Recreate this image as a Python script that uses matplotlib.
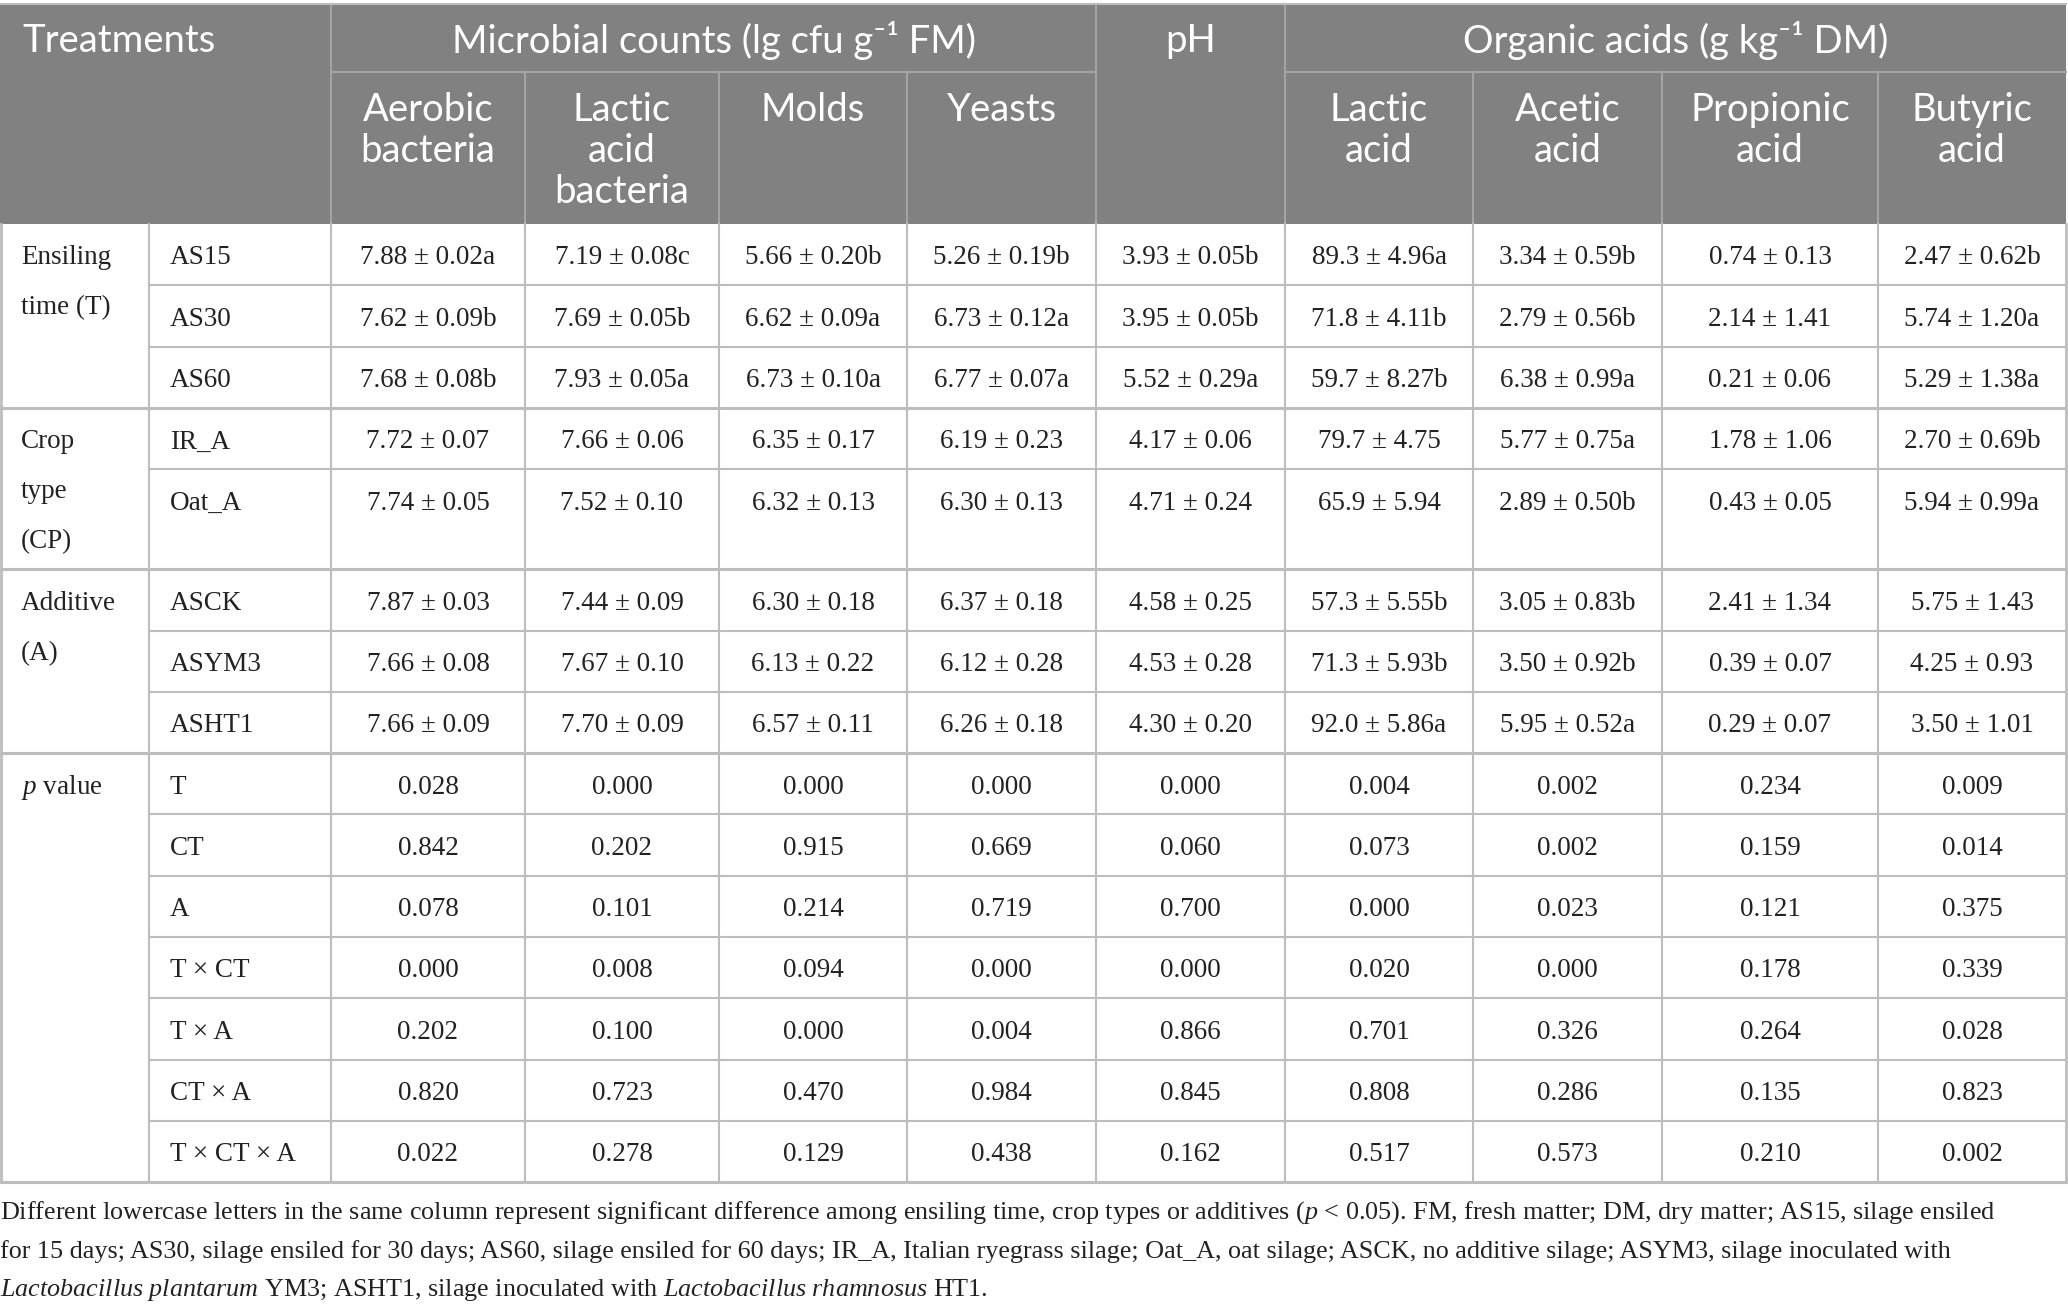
import matplotlib
matplotlib.use("Agg")
import matplotlib.pyplot as plt

# ---- table content ----
group_titles = ["Microbial counts (lg cfu g\u207b\u00b9 FM)", "pH", "Organic acids (g kg\u207b\u00b9 DM)"]
sub_headers = ["Aerobic\nbacteria", "Lactic\nacid\nbacteria", "Molds", "Yeasts", "",
               "Lactic\nacid", "Acetic\nacid", "Propionic\nacid", "Butyric\nacid"]

factor_labels = ["Ensiling\ntime (T)", "Crop\ntype\n(CP)", "Additive\n(A)", "$\\it{p}$ value"]
factor_levels = [["AS15", "AS30", "AS60"],
                 ["IR_A", "Oat_A"],
                 ["ASCK", "ASYM3", "ASHT1"],
                 ["T", "CT", "A", "T \u00d7 CT", "T \u00d7 A", "CT \u00d7 A", "T \u00d7 CT \u00d7 A"]]

time_rows = [
    ["7.88 ± 0.02a", "7.19 ± 0.08c", "5.66 ± 0.20b", "5.26 ± 0.19b", "3.93 ± 0.05b",
     "89.3 ± 4.96a", "3.34 ± 0.59b", "0.74 ± 0.13", "2.47 ± 0.62b"],
    ["7.62 ± 0.09b", "7.69 ± 0.05b", "6.62 ± 0.09a", "6.73 ± 0.12a", "3.95 ± 0.05b",
     "71.8 ± 4.11b", "2.79 ± 0.56b", "2.14 ± 1.41", "5.74 ± 1.20a"],
    ["7.68 ± 0.08b", "7.93 ± 0.05a", "6.73 ± 0.10a", "6.77 ± 0.07a", "5.52 ± 0.29a",
     "59.7 ± 8.27b", "6.38 ± 0.99a", "0.21 ± 0.06", "5.29 ± 1.38a"],
]
crop_rows = [
    ["7.72 ± 0.07", "7.66 ± 0.06", "6.35 ± 0.17", "6.19 ± 0.23", "4.17 ± 0.06",
     "79.7 ± 4.75", "5.77 ± 0.75a", "1.78 ± 1.06", "2.70 ± 0.69b"],
    ["7.74 ± 0.05", "7.52 ± 0.10", "6.32 ± 0.13", "6.30 ± 0.13", "4.71 ± 0.24",
     "65.9 ± 5.94", "2.89 ± 0.50b", "0.43 ± 0.05", "5.94 ± 0.99a"],
]
additive_rows = [
    ["7.87 ± 0.03", "7.44 ± 0.09", "6.30 ± 0.18", "6.37 ± 0.18", "4.58 ± 0.25",
     "57.3 ± 5.55b", "3.05 ± 0.83b", "2.41 ± 1.34", "5.75 ± 1.43"],
    ["7.66 ± 0.08", "7.67 ± 0.10", "6.13 ± 0.22", "6.12 ± 0.28", "4.53 ± 0.28",
     "71.3 ± 5.93b", "3.50 ± 0.92b", "0.39 ± 0.07", "4.25 ± 0.93"],
    ["7.66 ± 0.09", "7.70 ± 0.09", "6.57 ± 0.11", "6.26 ± 0.18", "4.30 ± 0.20",
     "92.0 ± 5.86a", "5.95 ± 0.52a", "0.29 ± 0.07", "3.50 ± 1.01"],
]
p_rows = [
    ["0.028", "0.000", "0.000", "0.000", "0.000", "0.004", "0.002", "0.234", "0.009"],
    ["0.842", "0.202", "0.915", "0.669", "0.060", "0.073", "0.002", "0.159", "0.014"],
    ["0.078", "0.101", "0.214", "0.719", "0.700", "0.000", "0.023", "0.121", "0.375"],
    ["0.000", "0.008", "0.094", "0.000", "0.000", "0.020", "0.000", "0.178", "0.339"],
    ["0.202", "0.100", "0.000", "0.004", "0.866", "0.701", "0.326", "0.264", "0.028"],
    ["0.820", "0.723", "0.470", "0.984", "0.845", "0.808", "0.286", "0.135", "0.823"],
    ["0.022", "0.278", "0.129", "0.438", "0.162", "0.517", "0.573", "0.210", "0.002"],
]
group_rows = [time_rows, crop_rows, additive_rows, p_rows]

footnote = [
    "Different lowercase letters in the same column represent significant difference among ensiling time, crop types or additives ($\\it{p}$ < 0.05). FM, fresh matter; DM, dry matter; AS15, silage ensiled",
    "for 15 days; AS30, silage ensiled for 30 days; AS60, silage ensiled for 60 days; IR_A, Italian ryegrass silage; Oat_A, oat silage; ASCK, no additive silage; ASYM3, silage inoculated with",
    "$\\it{Lactobacillus\\ plantarum}$ YM3; ASHT1, silage inoculated with $\\it{Lactobacillus\\ rhamnosus}$ HT1.",
]

# ---- layout (pixels) ----
W, H = 2068, 1311
col_edges = [0, 149, 331, 525, 719, 907, 1096, 1285, 1473, 1662, 1878, 2066]
head_top, head_mid, head_bot = 4, 72, 224
row_h = 61.3
tall_h = 100

HEAD_BG = "#808180"
HEAD_LINE = "#a3a4a3"
GRID = "#bdbdbd"
TEXT = "#222222"

plt.rcParams["mathtext.fontset"] = "custom"
plt.rcParams["mathtext.rm"] = "Liberation Serif"
plt.rcParams["mathtext.it"] = "Liberation Serif:italic"

head_font = ["Lato", "DejaVu Sans"]
body_font = "Liberation Serif"
head_size = 27.5
body_size = 19.5
note_size = 18.8

fig = plt.figure(figsize=(W / 100, H / 100), dpi=100)
ax = fig.add_axes([0, 0, 1, 1])
ax.set_xlim(0, W)
ax.set_ylim(H, 0)
ax.axis("off")

# header block
ax.add_patch(plt.Rectangle((0, head_top), col_edges[-1], head_bot - head_top,
                           facecolor=HEAD_BG, edgecolor="none"))
for x in [col_edges[2], col_edges[6], col_edges[7]]:
    ax.plot([x, x], [head_top, head_bot], color=HEAD_LINE, lw=1.5)
for x0, x1 in [(col_edges[2], col_edges[6]), (col_edges[7], col_edges[-1])]:
    ax.plot([x0, x1], [head_mid, head_mid], color=HEAD_LINE, lw=1.5)
for i in [3, 4, 5, 8, 9, 10]:
    ax.plot([col_edges[i], col_edges[i]], [head_mid, head_bot], color=HEAD_LINE, lw=1.5)
ax.plot([0, col_edges[-1]], [head_top, head_top], color=GRID, lw=1.5)

ax.text(22, 41, "Treatments", ha="left", va="center", color="white",
        family=head_font, fontsize=head_size)
spans = [(2, 6), (6, 7), (7, 11)]
for title, (a, b) in zip(group_titles, spans):
    ax.text((col_edges[a] + col_edges[b]) / 2, 41, title, ha="center", va="center",
            color="white", family=head_font, fontsize=head_size)
for j, sh in enumerate(sub_headers):
    if not sh:
        continue
    xc = (col_edges[j + 2] + col_edges[j + 3]) / 2
    for k, line in enumerate(sh.split("\n")):
        ax.text(xc, 110 + k * 41, line, ha="center", va="center", color="white",
                family=head_font, fontsize=head_size)

# body
y = head_bot
for g, (label, levels, rows) in enumerate(zip(factor_labels, factor_levels, group_rows)):
    g_top = y
    for k, line in enumerate(label.split("\n")):
        ax.text(21, g_top + 34 + k * 50, line, ha="left", va="center", color=TEXT,
                family=body_font, fontsize=body_size)
    for r, (lev, vals) in enumerate(zip(levels, rows)):
        h = tall_h if (g == 1 and r == 1) else row_h
        yc = y + 34
        ax.text(col_edges[1] + 21, yc, lev, ha="left", va="center", color=TEXT,
                family=body_font, fontsize=body_size)
        for j, v in enumerate(vals):
            ax.text((col_edges[j + 2] + col_edges[j + 3]) / 2, yc, v, ha="center",
                    va="center", color=TEXT, family=body_font, fontsize=body_size)
        y += h
        if r < len(levels) - 1:
            ax.plot([col_edges[1], col_edges[-1]], [y, y], color=GRID, lw=1.5)
    ax.plot([0, col_edges[-1]], [y, y], color=GRID, lw=2.2)
    for x in col_edges[1:-1]:
        ax.plot([x, x], [g_top, y], color=GRID, lw=1.5)
body_bot = y
for x in [col_edges[0] + 1, col_edges[-1]]:
    ax.plot([x, x], [head_bot, body_bot], color=GRID, lw=2)

for k, line in enumerate(footnote):
    ax.text(0, 1213 + k * 38.5, line, ha="left", va="center", color=TEXT,
            family=body_font, fontsize=note_size)

fig.savefig("out.png", dpi=100, facecolor="white")
